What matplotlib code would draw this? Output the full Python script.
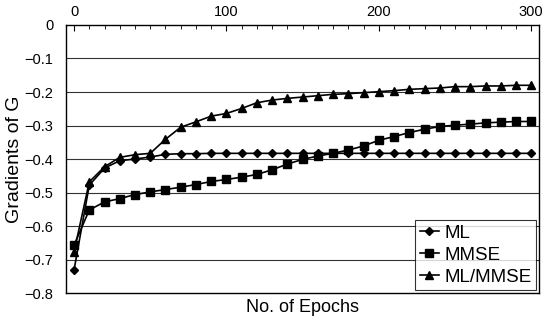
import numpy as np
import matplotlib
matplotlib.use("Agg")
import matplotlib.pyplot as plt

plt.rcParams['font.family'] = ['Liberation Sans', 'DejaVu Sans']

epochs = list(range(0, 301, 10))

ml = [-0.731, -0.478, -0.427, -0.405, -0.400, -0.394, -0.386, -0.384, -0.384, -0.383,
      -0.383, -0.383, -0.383, -0.383, -0.383, -0.383, -0.383, -0.383, -0.383, -0.383,
      -0.383, -0.383, -0.383, -0.383, -0.383, -0.383, -0.383, -0.383, -0.383, -0.383,
      -0.383]

mmse = [-0.657, -0.552, -0.528, -0.518, -0.506, -0.498, -0.491, -0.484, -0.476, -0.467,
        -0.461, -0.454, -0.446, -0.432, -0.415, -0.401, -0.391, -0.383, -0.373, -0.361,
        -0.344, -0.333, -0.321, -0.311, -0.303, -0.299, -0.296, -0.292, -0.290, -0.288,
        -0.288]

ml_mmse = [-0.677, -0.468, -0.423, -0.395, -0.387, -0.383, -0.341, -0.305, -0.289, -0.272,
           -0.264, -0.249, -0.232, -0.224, -0.219, -0.215, -0.211, -0.207, -0.205, -0.202,
           -0.199, -0.196, -0.192, -0.190, -0.188, -0.184, -0.184, -0.182, -0.182, -0.180,
           -0.180]

fig = plt.figure(figsize=(5.51, 3.2), dpi=100)
ax = fig.add_axes([0.12, 0.084, 0.858, 0.838])

for yv in np.arange(-0.7, 0.0, 0.1):
    ax.axhline(yv, color='#333333', lw=0.8, zorder=1)

ax.plot(epochs, ml, color='black', lw=1.2, marker='D', ms=4, label='ML', zorder=3)
ax.plot(epochs, mmse, color='black', lw=1.2, marker='s', ms=5.5, label='MMSE', zorder=3)
ax.plot(epochs, ml_mmse, color='black', lw=1.2, marker='^', ms=6, label='ML/MMSE', zorder=3)

ax.set_xlim(-5.2, 305)
ax.set_ylim(-0.8, 0)
ax.xaxis.tick_top()
ax.set_xticks([0, 100, 200, 300])
ax.set_xticks(range(0, 301, 10), minor=True)
ax.tick_params(axis='x', which='both', direction='in', labelsize=10.5, pad=4)
ax.tick_params(axis='x', which='major', length=4)
ax.tick_params(axis='x', which='minor', length=3)
ax.set_yticks(np.arange(-0.8, 0.01, 0.1))
ax.set_yticklabels(['\u22120.8', '\u22120.7', '\u22120.6', '\u22120.5', '\u22120.4',
                    '\u22120.3', '\u22120.2', '\u22120.1', '0'])
ax.tick_params(axis='y', length=0, labelsize=10.5, pad=9)

for s in ax.spines.values():
    s.set_color('black')
    s.set_linewidth(1.0)

ax.set_ylabel('Gradients of G', fontsize=14, labelpad=1)
ax.set_xlabel('No. of Epochs', fontsize=13, labelpad=4)
ax.xaxis.set_label_position('bottom')

leg = ax.legend(loc='lower right', fontsize=13.5, frameon=True, fancybox=False,
                handlelength=1.0, handletextpad=0.3, borderpad=0.25, labelspacing=0.25,
                borderaxespad=0.15)
leg.get_frame().set_edgecolor('black')
leg.get_frame().set_linewidth(0.8)

fig.savefig('out.png', dpi=100)
